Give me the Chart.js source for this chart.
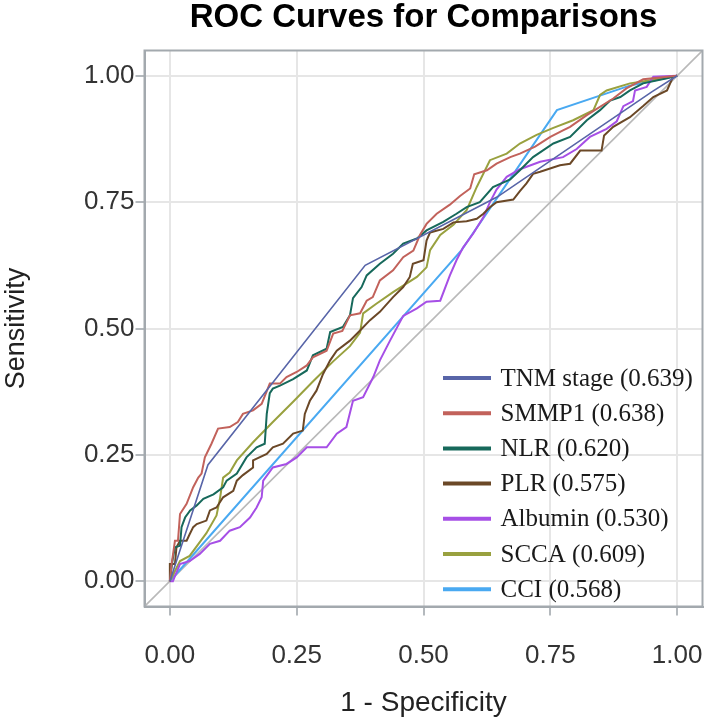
<!DOCTYPE html>
<html>
<head>
<meta charset="utf-8">
<script src="https://cdn.jsdelivr.net/npm/chart.js@4.4.0/dist/chart.umd.min.js"></script>
<style>
  html, body { margin: 0; padding: 0; background: #fff; }
  #wrap { width: 709px; height: 720px; }
</style>
</head>
<body>
<div id="wrap"><canvas id="roc" width="709" height="720"></canvas></div>
<script>
// Axis ticks
const xTicks = [0, 0.25, 0.5, 0.75, 1];
const yTicks = [0, 0.25, 0.5, 0.75, 1];

// Legend names and AUC
const seriesNames = ['TNM stage', 'SMMP1', 'NLR', 'PLR', 'Albumin', 'SCCA', 'CCI'];
const aucValues = ['0.639', '0.638', '0.620', '0.575', '0.530', '0.609', '0.568'];
const seriesColors = ['#5865a8', '#c2625b', '#17695b', '#6b4827', '#a64fe6', '#99a13f', '#49a9f1'];

// Chance line
const diagX = [-0.05, 1.05];
const diagY = [-0.05, 1.05];

// ROC points (1 - specificity, sensitivity)
const tnmX = [0, 0.075, 0.385, 0.645, 0.95, 1];
const tnmY = [0, 0.23, 0.625, 0.76, 0.968, 1];

const smmp1X = [0, 0.003, 0.01, 0.016, 0.02, 0.033, 0.046, 0.056, 0.0625, 0.069, 0.082, 0.095, 0.118, 0.134, 0.144, 0.164, 0.181, 0.197, 0.217, 0.23, 0.25, 0.27, 0.282, 0.309, 0.322, 0.34, 0.355, 0.375, 0.388, 0.4, 0.414, 0.44, 0.46, 0.48, 0.493, 0.506, 0.526, 0.552, 0.572, 0.592, 0.6, 0.625, 0.644, 0.671, 0.69, 0.72, 0.75, 0.775, 0.789, 0.822, 0.874, 0.9, 0.933, 1];
const smmp1Y = [0, 0.03, 0.08, 0.08, 0.133, 0.153, 0.186, 0.205, 0.213, 0.245, 0.272, 0.302, 0.305, 0.315, 0.331, 0.338, 0.351, 0.391, 0.391, 0.404, 0.414, 0.427, 0.443, 0.456, 0.49, 0.495, 0.526, 0.53, 0.555, 0.562, 0.595, 0.615, 0.641, 0.654, 0.685, 0.707, 0.727, 0.745, 0.762, 0.777, 0.805, 0.813, 0.826, 0.839, 0.846, 0.86, 0.879, 0.892, 0.899, 0.922, 0.955, 0.975, 0.993, 1];

const nlrX = [0, 0.005, 0.01, 0.02, 0.023, 0.03, 0.04, 0.053, 0.066, 0.086, 0.105, 0.112, 0.132, 0.151, 0.171, 0.187, 0.191, 0.197, 0.203, 0.217, 0.243, 0.27, 0.282, 0.309, 0.316, 0.341, 0.355, 0.361, 0.378, 0.388, 0.414, 0.44, 0.46, 0.487, 0.506, 0.539, 0.565, 0.585, 0.611, 0.637, 0.671, 0.69, 0.716, 0.756, 0.789, 0.822, 0.848, 0.868, 0.888, 0.907, 0.933, 0.98, 1];
const nlrY = [0, 0.04, 0.067, 0.07, 0.107, 0.126, 0.14, 0.15, 0.163, 0.172, 0.186, 0.199, 0.213, 0.245, 0.265, 0.272, 0.331, 0.372, 0.381, 0.387, 0.4, 0.417, 0.447, 0.46, 0.493, 0.503, 0.526, 0.56, 0.582, 0.605, 0.628, 0.648, 0.668, 0.678, 0.694, 0.711, 0.727, 0.74, 0.75, 0.78, 0.795, 0.813, 0.839, 0.866, 0.879, 0.912, 0.932, 0.951, 0.958, 0.971, 0.985, 0.995, 1];

const plrX = [0, 0, 0.01, 0.013, 0.02, 0.033, 0.039, 0.046, 0.053, 0.072, 0.079, 0.092, 0.105, 0.125, 0.132, 0.144, 0.164, 0.164, 0.191, 0.203, 0.223, 0.243, 0.262, 0.266, 0.276, 0.289, 0.302, 0.316, 0.329, 0.355, 0.375, 0.394, 0.414, 0.44, 0.46, 0.473, 0.479, 0.5, 0.506, 0.513, 0.539, 0.559, 0.585, 0.605, 0.618, 0.631, 0.644, 0.677, 0.69, 0.703, 0.716, 0.73, 0.769, 0.789, 0.809, 0.851, 0.856, 0.874, 0.907, 0.933, 0.953, 0.98, 0.992, 1];
const plrY = [0, 0.034, 0.034, 0.067, 0.08, 0.08, 0.093, 0.107, 0.113, 0.12, 0.14, 0.146, 0.166, 0.179, 0.199, 0.21, 0.225, 0.239, 0.252, 0.265, 0.272, 0.292, 0.298, 0.331, 0.357, 0.377, 0.41, 0.437, 0.456, 0.476, 0.496, 0.516, 0.533, 0.562, 0.582, 0.602, 0.628, 0.635, 0.674, 0.69, 0.697, 0.71, 0.712, 0.717, 0.727, 0.74, 0.75, 0.755, 0.772, 0.787, 0.806, 0.81, 0.823, 0.826, 0.852, 0.852, 0.882, 0.899, 0.918, 0.94, 0.958, 0.971, 0.998, 1];

const albuminX = [0, 0.006, 0.01, 0.02, 0.039, 0.059, 0.079, 0.099, 0.118, 0.138, 0.158, 0.171, 0.181, 0.184, 0.203, 0.23, 0.25, 0.27, 0.309, 0.329, 0.348, 0.361, 0.381, 0.401, 0.414, 0.434, 0.46, 0.487, 0.506, 0.533, 0.552, 0.565, 0.578, 0.598, 0.618, 0.631, 0.644, 0.664, 0.69, 0.73, 0.775, 0.802, 0.828, 0.861, 0.881, 0.894, 0.913, 0.917, 0.94, 0.953, 1];
const albuminY = [0, 0, 0.01, 0.034, 0.04, 0.054, 0.074, 0.08, 0.1, 0.107, 0.126, 0.146, 0.166, 0.199, 0.225, 0.232, 0.245, 0.265, 0.265, 0.292, 0.305, 0.357, 0.364, 0.404, 0.437, 0.476, 0.525, 0.54, 0.553, 0.555, 0.605, 0.635, 0.66, 0.688, 0.72, 0.75, 0.775, 0.8, 0.815, 0.83, 0.839, 0.855, 0.879, 0.895, 0.91, 0.94, 0.95, 0.971, 0.978, 0.998, 1];

const sccaX = [0, 0.02, 0.039, 0.072, 0.092, 0.099, 0.105, 0.118, 0.132, 0.164, 0.203, 0.243, 0.282, 0.322, 0.355, 0.375, 0.381, 0.407, 0.44, 0.487, 0.506, 0.513, 0.533, 0.559, 0.585, 0.605, 0.631, 0.664, 0.69, 0.723, 0.756, 0.795, 0.835, 0.848, 0.861, 0.907, 0.947, 1];
const sccaY = [0, 0.04, 0.05, 0.095, 0.13, 0.165, 0.205, 0.215, 0.239, 0.275, 0.315, 0.355, 0.395, 0.435, 0.465, 0.492, 0.53, 0.549, 0.572, 0.602, 0.621, 0.655, 0.685, 0.705, 0.734, 0.78, 0.833, 0.846, 0.866, 0.883, 0.897, 0.912, 0.932, 0.962, 0.971, 0.985, 0.991, 1];

const cciX = [0, 0.575, 0.763, 0.905, 1];
const cciY = [0, 0.655, 0.932, 0.98, 1];

const allX = [tnmX, smmp1X, nlrX, plrX, albuminX, sccaX, cciX];
const allY = [tnmY, smmp1Y, nlrY, plrY, albuminY, sccaY, cciY];

function zip(xs, ys) {
    return xs.map((x, i) => ({ x: x, y: ys[i] }));
}

const datasets = seriesNames.map((name, i) => ({
    label: name,
    legendText: name + ' (' + aucValues[i] + ')',
    data: zip(allX[i], allY[i]),
    borderColor: seriesColors[i],
    borderWidth: i === 0 ? 1.6 : 2,
    pointRadius: 0,
    tension: 0,
    fill: false
}));

datasets.push({
    label: 'chance',
    data: zip(diagX, diagY),
    borderColor: '#b9b9b9',
    borderWidth: 1.6,
    pointRadius: 0,
    fill: false
});

const axisFont = "'Liberation Sans', Arial, sans-serif";

// title, frame and in-plot legend
const decorations = {
    id: 'decorations',
    afterDraw(chart) {
        const { ctx, chartArea } = chart;
        ctx.save();
        // frame
        ctx.strokeStyle = '#a3a9ae';
        ctx.lineWidth = 2;
        ctx.strokeRect(chartArea.left, chartArea.top, chartArea.right - chartArea.left, chartArea.bottom - chartArea.top);

        // title
        ctx.fillStyle = '#000';
        ctx.font = "bold 33px 'Liberation Sans', Arial, sans-serif";
        ctx.textAlign = 'center';
        ctx.textBaseline = 'middle';
        ctx.fillText('ROC Curves for Comparisons', (chartArea.left + chartArea.right) / 2, 18);

        // legend
        ctx.font = "25px 'Liberation Serif', 'Times New Roman', serif";
        ctx.textAlign = 'left';
        let y = chartArea.top + 327.5;
        chart.data.datasets.forEach(ds => {
            if (!ds.legendText) return;
            ctx.strokeStyle = ds.borderColor;
            ctx.lineWidth = 4;
            ctx.beginPath();
            ctx.moveTo(chartArea.left + 298.5, y);
            ctx.lineTo(chartArea.left + 346.5, y);
            ctx.stroke();
            ctx.fillStyle = '#1a1a1a';
            ctx.fillText(ds.legendText, chartArea.left + 356, y + 1);
            y += 35.2;
        });
        ctx.restore();
    }
};

new Chart(document.getElementById('roc'), {
    type: 'line',
    data: { datasets: datasets },
    options: {
        responsive: false,
        animation: false,
        devicePixelRatio: 1,
        layout: { padding: { left: 0, top: 50.5, right: 6.5, bottom: 0 } },
        plugins: {
            legend: { display: false },
            title: { display: false },
            tooltip: { enabled: false }
        },
        scales: {
            x: {
                type: 'linear',
                min: -0.05,
                max: 1.05,
                afterBuildTicks: scale => { scale.ticks = xTicks.map(v => ({ value: v })); },
                afterFit: scale => { scale.height = 113.5; scale.paddingLeft = 0; scale.paddingRight = 0; },
                ticks: {
                    callback: v => v.toFixed(2),
                    color: '#333',
                    font: { family: axisFont, size: 26 },
                    padding: 25,
                    maxRotation: 0
                },
                grid: { color: '#e6e6e6', lineWidth: 2, tickColor: '#b4b9bd', tickLength: 9 },
                border: { display: true, color: '#a3a9ae', width: 2 },
                title: {
                    display: true,
                    text: '1 - Specificity',
                    color: '#222',
                    font: { family: axisFont, size: 28 },
                    padding: { top: 0, bottom: 0 }
                }
            },
            y: {
                type: 'linear',
                min: -0.05,
                max: 1.05,
                afterBuildTicks: scale => { scale.ticks = yTicks.map(v => ({ value: v })); },
                afterFit: scale => { scale.width = 144.5; scale.paddingTop = 0; scale.paddingBottom = 0; },
                ticks: {
                    callback: v => v.toFixed(2),
                    color: '#333',
                    font: { family: axisFont, size: 26 },
                    padding: 1
                },
                grid: { color: '#e6e6e6', lineWidth: 2, tickColor: '#b4b9bd', tickLength: 9 },
                border: { display: true, color: '#a3a9ae', width: 2 },
                title: {
                    display: true,
                    text: 'Sensitivity',
                    color: '#222',
                    font: { family: axisFont, size: 27 },
                    padding: { top: 0, bottom: 0 }
                }
            }
        }
    },
    plugins: [decorations]
});
</script>
</body>
</html>
